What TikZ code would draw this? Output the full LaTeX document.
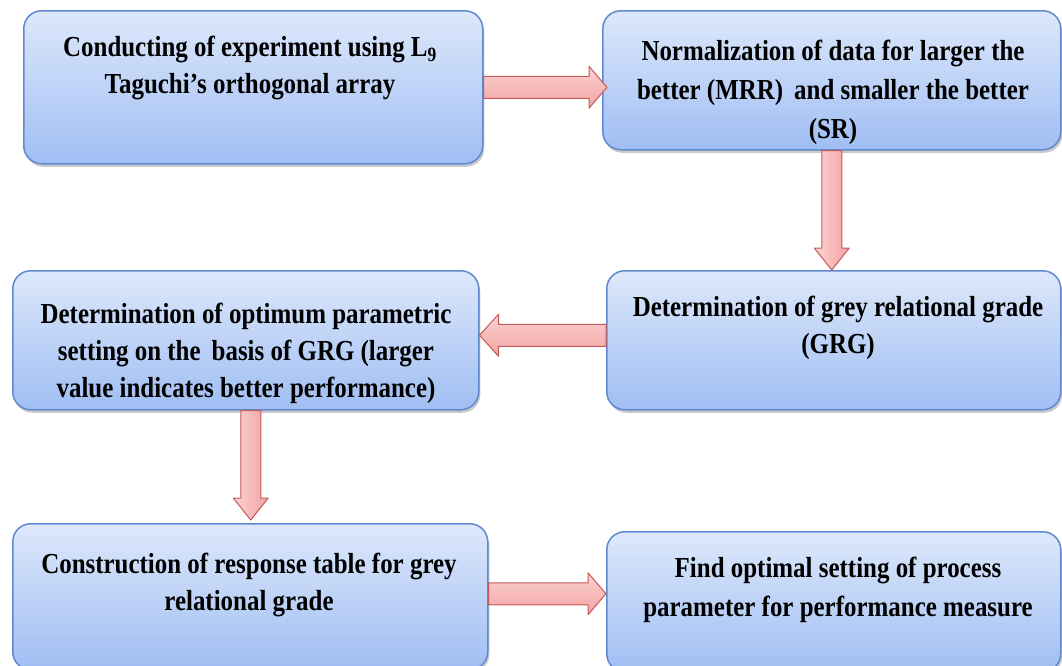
\documentclass[tikz,border=0pt]{standalone}
\usepackage{fontspec}
\setmainfont{Liberation Serif}[FakeStretch=0.86]
\usetikzlibrary{calc,shadows}
\definecolor{boxtop}{HTML}{DDE8FB}
\definecolor{boxbot}{HTML}{A0BEF3}
\definecolor{boxline}{HTML}{6189CF}
\definecolor{arrtop}{HTML}{FCD2D2}
\definecolor{arrbot}{HTML}{F2A2A2}
\definecolor{arrline}{HTML}{C45A58}
\tikzset{
  box/.style={draw=boxline, line width=1.5pt, rounded corners=18pt,
    top color=boxtop, bottom color=boxbot, anchor=north west, inner sep=0pt,
    drop shadow={shadow xshift=1.5pt, shadow yshift=-3pt, opacity=0.3, fill=black!70}},
  boxtext/.style={anchor=north, align=center, inner sep=0pt,
    font=\fontsize{29}{37}\selectfont\bfseries},
  harrow/.style={draw=arrline, line width=1pt, top color=arrtop, bottom color=arrbot, line join=round},
  varrow/.style={draw=arrline, line width=1pt, left color=arrtop, right color=arrbot, line join=round},
}
\newcommand{\blockR}[2]{\path[harrow] let \p1=(#1), \p2=(#2) in
  (\x1,{\y1+11pt}) -- ({\x2-18pt},{\y1+11pt}) -- ({\x2-18pt},{\y1+21pt}) -- (\x2,\y1)
  -- ({\x2-18pt},{\y1-21pt}) -- ({\x2-18pt},{\y1-11pt}) -- (\x1,{\y1-11pt}) -- cycle;}
\newcommand{\blockL}[2]{\path[harrow] let \p1=(#1), \p2=(#2) in
  (\x1,{\y1+11pt}) -- ({\x2+19pt},{\y1+11pt}) -- ({\x2+19pt},{\y1+21pt}) -- (\x2,\y1)
  -- ({\x2+19pt},{\y1-21pt}) -- ({\x2+19pt},{\y1-11pt}) -- (\x1,{\y1-11pt}) -- cycle;}
\newcommand{\blockD}[2]{\path[varrow] let \p1=(#1), \p2=(#2) in
  ({\x1-10pt},\y1) -- ({\x1-10pt},{\y2+22pt}) -- ({\x1-17.5pt},{\y2+22pt}) -- (\x1,\y2)
  -- ({\x1+17.5pt},{\y2+22pt}) -- ({\x1+10pt},{\y2+22pt}) -- ({\x1+10pt},\y1) -- cycle;}
\begin{document}
\begin{tikzpicture}[x=1pt,y=-1pt]
\useasboundingbox (0,0) rectangle (1062,665);
\node[box, minimum width=459pt, minimum height=153pt] (b1) at (23,10) {};
\node[box, minimum width=458pt, minimum height=139pt] (b2) at (602,10) {};
\node[box, minimum width=466pt, minimum height=139pt] (b3) at (12,270) {};
\node[box, minimum width=454pt, minimum height=139pt] (b4) at (606,270) {};
\node[box, minimum width=475pt, minimum height=146pt] (b5) at (12,523) {};
\node[box, minimum width=454pt, minimum height=140pt] (b6) at (606,531) {};

\node[boxtext] (t1) at (250,36) {Conducting of experiment using L\textsubscript{9}\\Taguchi’s orthogonal array};
\node[boxtext] (t2) at (833,40) {Normalization of data for larger the\\[2pt]better (MRR)\, and smaller the better\\[2pt](SR)};
\node[boxtext] (t3) at (246,303) {Determination of optimum parametric\\setting on the\, basis of GRG (larger\\value indicates better performance)};
\node[boxtext] (t4) at (838,296) {Determination of grey relational grade\\(GRG)};
\node[boxtext] (t5) at (249,553) {Construction of response table for grey\\relational grade};
\node[boxtext] (t6) at (838,557) {Find optimal setting of process\\[2pt]parameter for performance measure};

\blockR{b1.east}{$(b2.west)+(5,0)$}
\blockD{b2.south}{b4.north}
\blockL{$(b4.west)+(0,-5)$}{b3.east}
\blockD{$(b3.south)+(5,0)$}{$(b5.north)+(0,-3)$}
\blockR{$(b5.east)+(0,-3)$}{b6.west}
\end{tikzpicture}
\end{document}
